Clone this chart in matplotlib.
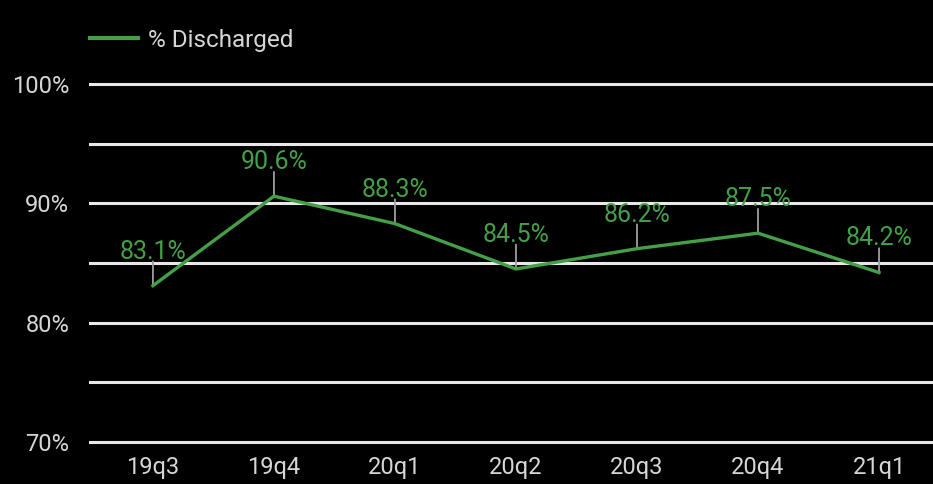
import matplotlib
matplotlib.use('Agg')
import matplotlib.pyplot as plt

plt.rcParams['font.family'] = ['Roboto', 'DejaVu Sans']

quarters = ['19q3', '19q4', '20q1', '20q2', '20q3', '20q4', '21q1']
discharged = [83.1, 90.6, 88.3, 84.5, 86.2, 87.5, 84.2]
grid_levels = [70, 75, 80, 85, 90, 95, 100]
tick_levels = [70, 80, 90, 100]

green = '#43a047'
grid_col = '#e8e8e8'
text_col = '#d6d6d6'
leader_col = '#9e9e9e'

fig = plt.figure(figsize=(9.33, 4.84), dpi=100, facecolor='black')
ax = fig.add_axes([90/933, 1 - 442/484, (933 - 90)/933, (442 - 84)/484])
ax.set_facecolor('black')

for g in grid_levels:
    ax.axhline(g, color=grid_col, lw=2.2, clip_on=False, zorder=1)

x = list(range(len(quarters)))
ax.plot(x, discharged, color=green, lw=2.4, label='% Discharged', zorder=3,
        solid_joinstyle='miter', clip_on=False)

for i, v in zip(x, discharged):
    ax.annotate('', xy=(i, v), xytext=(0, 17.5), textcoords='offset points',
                arrowprops=dict(arrowstyle='-', color=leader_col, lw=1.3,
                                shrinkA=0, shrinkB=0), zorder=2)
    ax.annotate(f'{v:.1f}%', xy=(i, v), xytext=(0, 19.5), textcoords='offset points',
                ha='center', va='baseline', color=green, fontsize=18, zorder=4)

ax.set_xlim(-0.52, 6.446)
ax.set_ylim(70, 100)
ax.set_xticks(x)
ax.set_xticklabels(quarters)
ax.set_yticks(tick_levels)
ax.set_yticklabels([f'{t}%' for t in tick_levels])
ax.tick_params(axis='both', length=0, colors=text_col, labelsize=17)
ax.tick_params(axis='y', pad=15)
ax.tick_params(axis='x', pad=10)
for s in ax.spines.values():
    s.set_visible(False)

leg = ax.legend(loc='center left', bbox_to_anchor=(90/933, 1 - 40/484),
                bbox_transform=fig.transFigure, frameon=False, borderpad=0,
                borderaxespad=0, handlelength=1.97, handletextpad=0.41,
                fontsize=17.5)
for t in leg.get_texts():
    t.set_color(text_col)
for h in leg.legend_handles:
    h.set_linewidth(3)

fig.savefig('out.png', dpi=100, facecolor='black')
